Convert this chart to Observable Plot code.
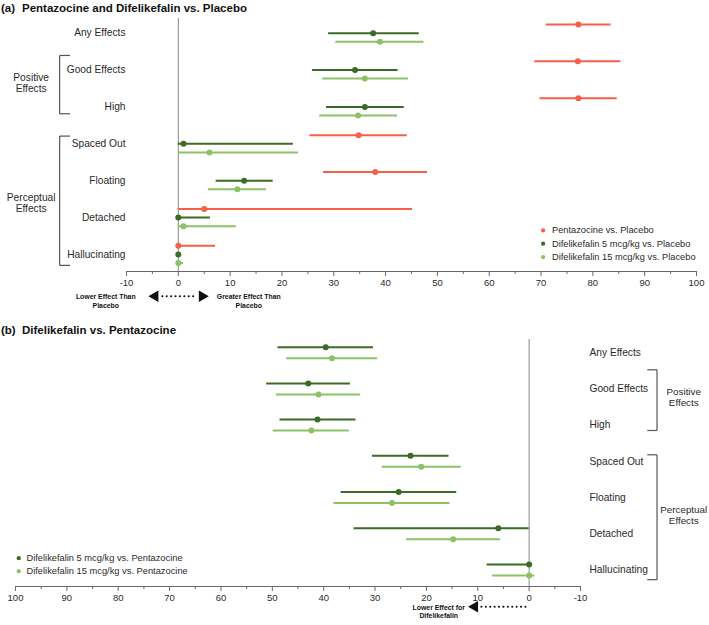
<!DOCTYPE html>
<html><head><meta charset="utf-8">
<script src="https://cdn.jsdelivr.net/npm/d3@7"></script>
<script src="https://cdn.jsdelivr.net/npm/@observablehq/plot@0.6"></script>
<style>
body{margin:0;background:#fff;font-family:"Liberation Sans",Arial,sans-serif;}
#wrap{position:relative;width:709px;height:625px;overflow:hidden;background:#fff}
.panel{position:absolute;left:0}
.title{position:absolute;font-weight:bold;font-size:11.5px;line-height:13px;color:#111;white-space:nowrap;z-index:5}
</style></head><body>
<div id="wrap">
  <div id="pa" class="panel" style="top:0"></div>
  <div id="pb" class="panel" style="top:312px"></div>
  <div class="title" style="left:1px;top:1.5px">(a)</div>
  <div class="title" style="left:22px;top:1.5px">Pentazocine and Difelikefalin vs. Placebo</div>
  <div class="title" style="left:1px;top:323.5px">(b)</div>
  <div class="title" style="left:22px;top:323.5px">Difelikefalin vs. Pentazocine</div>
</div>
<script>
// ---------- data ----------
const categories = ["Any Effects","Good Effects","High","Spaced Out","Floating","Detached","Hallucinating"];
const groupLabels = ["Positive\nEffects","Perceptual\nEffects"];
const xTicks = [-10,0,10,20,30,40,50,60,70,80,90,100];
const xMinorTicks = [-5,5,15,25,35,45,55,65,75,85,95];

// Panel (a): vs. Placebo
const seriesA = ["Pentazocine vs. Placebo","Difelikefalin 5 mcg/kg vs. Placebo","Difelikefalin 15 mcg/kg vs. Placebo"];
const pentaEst = [77.2,77.1,77.2,34.8,38.0,5.0,0];
const pentaLo  = [71.0,68.8,69.8,25.4,28.0,0,0];
const pentaHi  = [83.5,85.4,84.7,44.2,48.1,45.2,7.2];
const d5Est = [37.6,34.1,36.0,1.0,12.7,0,0];
const d5Lo  = [29.0,25.9,28.6,0,7.3,0,0];
const d5Hi  = [46.5,42.4,43.6,22.2,18.3,6.2,0];
const d15Est = [38.9,36.0,34.7,6.0,11.4,1.0,0];
const d15Lo  = [30.4,27.9,27.3,0,5.8,0,0];
const d15Hi  = [47.4,44.4,42.3,23.2,17.0,11.2,1.0];

// Panel (b): vs. Pentazocine
const seriesB = ["Difelikefalin 5 mcg/kg vs. Pentazocine","Difelikefalin 15 mcg/kg vs. Pentazocine"];
const b5Est = [39.6,43.0,41.2,23.1,25.4,6.0,0];
const b5Lo  = [30.3,34.8,33.7,15.6,14.1,0,0];
const b5Hi  = [48.9,51.1,48.5,30.5,36.6,34.1,8.2];
const b15Est = [38.4,41.0,42.4,21.0,26.7,14.8,0];
const b15Lo  = [29.5,32.8,35.0,13.2,15.4,5.6,-1.1];
const b15Hi  = [47.2,49.2,49.8,28.6,38.0,23.9,7.1];

const colorsA = ["#f4604a","#3b6b27","#8bc266"];
const colorsB = ["#3b6b27","#8bc266"];

// ---------- build rows ----------
function rows(series, ests, los, his, offsets) {
  const out = [];
  series.forEach((s, k) => {
    categories.forEach((c, i) => {
      out.push({series: s, cat: c, y: i + offsets[k], est: ests[k][i], lo: los[k][i], hi: his[k][i]});
    });
  });
  return out;
}
const rowsA = rows(seriesA, [pentaEst,d5Est,d15Est], [pentaLo,d5Lo,d15Lo], [pentaHi,d5Hi,d15Hi], [-0.236,0,0.232]);
const rowsB = rows(seriesB, [b5Est,b15Est], [b5Lo,b15Lo], [b5Hi,b15Hi], [-0.152,0.152]);
const catRows = categories.map((c,i)=>({cat:c, i}));

const smallFont = "'Liberation Sans Narrow','Arial Narrow','Liberation Sans',Arial,sans-serif";
const axisGray = "#6a6a6a";
const txt = "#2a2a2a";

// ---------- Panel (a) ----------
const yDomA = [-0.398, 6.461];
const bracketA = [{g:0, top:0.604, bot:2.184, ty:1.345}, {g:1, top:2.79, bot:6.295, ty:4.593}];
const legYA = [5.347, 5.707, 6.07];
const arrowYA = 7.13;
const chartA = Plot.plot({
  width: 709, height: 312,
  marginLeft: 126, marginRight: 13, marginTop: 18, marginBottom: 41,
  style: {fontFamily: "'Liberation Sans',Arial,sans-serif", background: "transparent", overflow: "visible"},
  x: {domain: [-10, 100], axis: null},
  y: {domain: yDomA, reverse: true, axis: null},
  color: {domain: seriesA, range: colorsA},
  marks: [
    Plot.ruleX([0], {stroke: "#8a8a8a", strokeWidth: 1}),
    Plot.ruleY([yDomA[1]], {stroke: axisGray, strokeWidth: 1.2}),
    Plot.axisX({ticks: xTicks, tickSize: 5, tickPadding: 3, fontSize: 9.5, tickFormat: d => String(d), stroke: axisGray, fill: txt}),
    Plot.axisX({ticks: xMinorTicks, tickSize: 3, tickFormat: () => "", stroke: axisGray}),
    Plot.ruleY(rowsA.filter(d => d.hi > d.lo), {y: "y", x1: "lo", x2: "hi", stroke: "series", strokeWidth: 2}),
    Plot.dot(rowsA, {x: "est", y: "y", fill: "series", r: 3}),
    Plot.text(catRows, {x: -10, y: "i", text: "cat", textAnchor: "end", dx: -1, fontSize: 10.2, fill: txt}),
    // group brackets
    Plot.link(bracketA, {x1: -22.9, x2: -22.9, y1: "top", y2: "bot", stroke: "#555", strokeWidth: 1.2}),
    Plot.link(bracketA, {x1: -22.9, x2: -20.9, y1: "top", y2: "top", stroke: "#555", strokeWidth: 1.2}),
    Plot.link(bracketA, {x1: -22.9, x2: -20.9, y1: "bot", y2: "bot", stroke: "#555", strokeWidth: 1.2}),
    Plot.text(bracketA, {x: -28.4, y: "ty", text: d => groupLabels[d.g], fontSize: 10.2, lineHeight: 1.12, fill: txt}),
    // legend
    Plot.dot(seriesA, {x: 70.4, y: (d,i) => legYA[i], fill: d => d, r: 2.1}),
    Plot.text(seriesA, {x: 72.1, y: (d,i) => legYA[i], text: d => d, textAnchor: "start", fontSize: 9.3, fill: txt}),
    // direction annotation
    Plot.ruleY([arrowYA], {x1: -3.0, x2: 3.2, stroke: "#111", strokeWidth: 2, strokeDasharray: "0.1,4.3", strokeLinecap: "round"}),
    Plot.dot([{x: -4.5, r: -90}, {x: 4.6, r: 90}], {x: "x", y: arrowYA, rotate: "r", symbol: "triangle", r: 4.3, fill: "#111"}),
    Plot.text(["Lower Effect Than\nPlacebo"], {x: -14.0, y: arrowYA + 0.117, text: d => d, fontSize: 6.9, fontWeight: "bold", fontFamily: smallFont, lineHeight: 1.25, fill: "#111"}),
    Plot.text(["Greater Effect Than\nPlacebo"], {x: 13.6, y: arrowYA + 0.117, text: d => d, fontSize: 6.9, fontWeight: "bold", fontFamily: smallFont, lineHeight: 1.25, fill: "#111"})
  ]
});
document.getElementById("pa").append(chartA);

// ---------- Panel (b) ----------
const yDomB = [-0.365, 6.459];
const bracketB = [{g:0, top:0.472, bot:2.149, ty:1.232}, {g:1, top:2.82, bot:6.27, ty:4.49}];
const legYB = [5.677, 6.036];
const arrowYB = 7.14;
const chartB = Plot.plot({
  width: 709, height: 313,
  marginLeft: 15, marginRight: 129, marginTop: 27, marginBottom: 39,
  style: {fontFamily: "'Liberation Sans',Arial,sans-serif", background: "transparent", overflow: "visible"},
  x: {domain: [-10, 100], reverse: true, axis: null},
  y: {domain: yDomB, reverse: true, axis: null},
  color: {domain: seriesB, range: colorsB},
  marks: [
    Plot.ruleX([0], {stroke: "#8a8a8a", strokeWidth: 1}),
    Plot.ruleY([yDomB[1]], {stroke: axisGray, strokeWidth: 1.2}),
    Plot.axisX({ticks: xTicks, tickSize: 5, tickPadding: 3, fontSize: 9.5, tickFormat: d => String(d), stroke: axisGray, fill: txt}),
    Plot.axisX({ticks: xMinorTicks, tickSize: 3, tickFormat: () => "", stroke: axisGray}),
    Plot.ruleY(rowsB.filter(d => d.hi > d.lo), {y: "y", x1: "lo", x2: "hi", stroke: "series", strokeWidth: 2}),
    Plot.dot(rowsB, {x: "est", y: "y", fill: "series", r: 3}),
    Plot.text(catRows, {x: -10, y: "i", text: "cat", textAnchor: "start", dx: 9, fontSize: 10.2, fill: txt}),
    Plot.link(bracketB, {x1: -24.9, x2: -24.9, y1: "top", y2: "bot", stroke: "#555", strokeWidth: 1.2}),
    Plot.link(bracketB, {x1: -24.9, x2: -23.0, y1: "top", y2: "top", stroke: "#555", strokeWidth: 1.2}),
    Plot.link(bracketB, {x1: -24.9, x2: -23.0, y1: "bot", y2: "bot", stroke: "#555", strokeWidth: 1.2}),
    Plot.text(bracketB, {x: -30.1, y: "ty", text: d => groupLabels[d.g], fontSize: 9.8, lineHeight: 1.12, fill: txt}),
    Plot.dot(seriesB, {x: 99.36, y: (d,i) => legYB[i], fill: d => d, r: 2.1}),
    Plot.text(seriesB, {x: 97.86, y: (d,i) => legYB[i], text: d => d, textAnchor: "start", fontSize: 9.3, fill: txt}),
    Plot.ruleY([arrowYB - 0.12], {x1: 9.2, x2: 0.3, stroke: "#111", strokeWidth: 2, strokeDasharray: "0.1,4.3", strokeLinecap: "round"}),
    Plot.dot([{x: 10.6}], {x: "x", y: arrowYB - 0.12, rotate: -90, symbol: "triangle", r: 4.3, fill: "#111"}),
    Plot.text(["Lower Effect for\nDifelikefalin"], {x: 17.6, y: arrowYB, text: d => d, fontSize: 6.9, fontWeight: "bold", fontFamily: smallFont, lineHeight: 1.25, fill: "#111"})
  ]
});
document.getElementById("pb").append(chartB);
</script>
</body></html>
